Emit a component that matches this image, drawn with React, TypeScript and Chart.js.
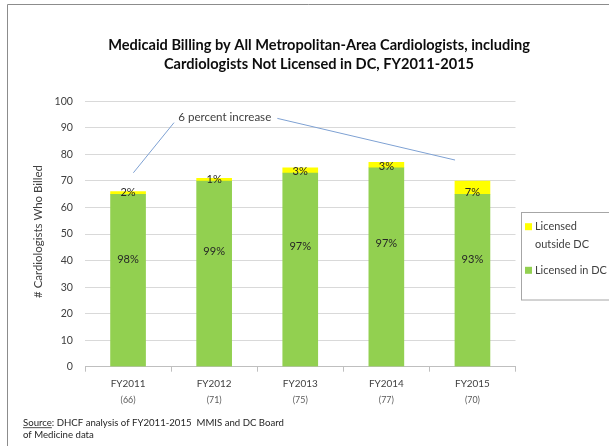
import React, { useEffect, useRef } from 'react';
import { Chart, registerables } from 'chart.js';

Chart.register(...registerables);

// ---------- data ----------
const categories = ['FY2011', 'FY2012', 'FY2013', 'FY2014', 'FY2015'];
const licensedInDC = [65, 70, 73, 75, 65];
const licensedOutsideDC = [1, 1, 2, 2, 5];
const totals = ['(66)', '(71)', '(75)', '(77)', '(70)'];
const pctInDC = ['98%', '99%', '97%', '97%', '93%'];
const pctOutsideDC = ['2%', '1%', '3%', '3%', '7%'];
const yTicks = [0, 10, 20, 30, 40, 50, 60, 70, 80, 90, 100];

const titleLines = [
  'Medicaid Billing by All Metropolitan-Area Cardiologists, including',
  'Cardiologists Not Licensed in DC, FY2011-2015',
];
const yAxisTitle = '# Cardiologists Who Billed';
const annotationText = '6 percent increase';
// annotation lines in data units: [categoryIndex, value]
const annotLeft = [[0.062, 73.1], [0.534, 92.0]];
const annotRight = [[1.734, 93.6], [3.798, 77.9]];
const annotTextAt = [0.584, 94.0];
const legendItems = [
  { lines: ['Licensed', 'outside DC'], color: '#FFFF00' },
  { lines: ['Licensed in DC'], color: '#92D050' },
];

const FONT = 'Lato, "Open Sans", "DejaVu Sans", sans-serif';

function fitSize(text: string, weight: string, width: number): number {
  const c = document.createElement('canvas').getContext('2d')!;
  c.font = `${weight} 100px ${FONT}`;
  const w = c.measureText(text).width;
  return (100 * width) / w;
}

export default function App() {
  const ref = useRef<HTMLCanvasElement | null>(null);

  useEffect(() => {
    document.body.style.margin = '0';
    const canvas = ref.current!;

    const titleSize = fitSize(titleLines[0], 'bold', 422);
    const yTickSize = fitSize('100', 'normal', 18.4);
    const xTickSize = fitSize('FY2011', 'normal', 31.7) * 1.1;
    const subSize = fitSize('(66)', 'normal', 15);
    const dataSize = fitSize('98%', 'normal', 21.7);
    const annSize = fitSize(annotationText, 'normal', 93);
    const axisTitleSize = fitSize(yAxisTitle, 'normal', 133);
    const legendSize = fitSize('Licensed in DC', 'normal', 72);
    const sourceSize = fitSize('Source: DHCF analysis of FY2011-2015  MMIS and DC Board', 'normal', 261);

    const decor = {
      id: 'decor',
      afterDatasetsDraw(chart: any) {
        const ctx = chart.ctx;
        const m0 = chart.getDatasetMeta(0);
        ctx.save();
        ctx.fillStyle = '#262626';
        ctx.textAlign = 'center';
        ctx.textBaseline = 'middle';
        ctx.font = `normal ${dataSize}px ${FONT}`;
        m0.data.forEach((bar: any, i: number) => {
          const yLab = bar.base - 0.62 * (bar.base - bar.y);
          ctx.fillText(pctInDC[i], bar.x, yLab);
          ctx.fillText(pctOutsideDC[i], bar.x, bar.y - 1.5);
        });
        ctx.restore();
      },
      afterDraw(chart: any) {
        const ctx = chart.ctx;
        const xs = chart.scales.x;
        const ys = chart.scales.y;
        ctx.save();

        // outer frame
        ctx.strokeStyle = '#8c8c8c';
        ctx.lineWidth = 1;
        ctx.beginPath();
        ctx.moveTo(7.5, 446);
        ctx.lineTo(7.5, 4.5);
        ctx.lineTo(609, 4.5);
        ctx.stroke();

        // title
        ctx.fillStyle = '#0d0d0d';
        ctx.textAlign = 'center';
        ctx.textBaseline = 'middle';
        ctx.font = `bold ${titleSize}px ${FONT}`;
        ctx.fillText(titleLines[0], 319, 45);
        ctx.fillText(titleLines[1], 319, 64);

        // y axis title
        ctx.save();
        ctx.translate(38, 231.5);
        ctx.rotate(-Math.PI / 2);
        ctx.fillStyle = '#404040';
        ctx.font = `normal ${axisTitleSize}px ${FONT}`;
        ctx.fillText(yAxisTitle, 0, 0);
        ctx.restore();

        // sub labels under categories
        ctx.fillStyle = '#595959';
        ctx.font = `normal ${subSize}px ${FONT}`;
        totals.forEach((t, i) => {
          ctx.fillText(t, xs.getPixelForValue(i), 400);
        });

        // annotation
        ctx.strokeStyle = '#7ea1d3';
        ctx.lineWidth = 1;
        [annotLeft, annotRight].forEach((seg) => {
          ctx.beginPath();
          ctx.moveTo(xs.getPixelForValue(seg[0][0]), ys.getPixelForValue(seg[0][1]));
          ctx.lineTo(xs.getPixelForValue(seg[1][0]), ys.getPixelForValue(seg[1][1]));
          ctx.stroke();
        });
        ctx.fillStyle = '#404040';
        ctx.textAlign = 'left';
        ctx.font = `normal ${annSize}px ${FONT}`;
        ctx.fillText(
          annotationText,
          xs.getPixelForValue(annotTextAt[0]),
          ys.getPixelForValue(annotTextAt[1])
        );

        // legend
        ctx.strokeStyle = '#a6a6a6';
        ctx.strokeRect(521.5, 212.5, 120, 87.5);
        ctx.font = `normal ${legendSize}px ${FONT}`;
        ctx.textBaseline = 'middle';
        const legendY = [226.7, 270.3];
        legendItems.forEach((it, k) => {
          const y = legendY[k];
          ctx.fillStyle = it.color;
          ctx.fillRect(525, y - 3.5, 7, 7);
          ctx.fillStyle = '#404040';
          it.lines.forEach((ln, j) => {
            ctx.fillText(ln, 535, y + j * 17.3);
          });
        });

        // source
        ctx.fillStyle = '#262626';
        ctx.font = `normal ${sourceSize}px ${FONT}`;
        const sx = 23;
        const srcWord = 'Source';
        ctx.fillText(srcWord, sx, 423);
        const sw = ctx.measureText(srcWord).width;
        ctx.fillRect(sx, 423 + sourceSize * 0.45, sw, 0.8);
        ctx.fillText(': DHCF analysis of FY2011-2015  MMIS and DC Board', sx + sw, 423);
        ctx.fillText('of Medicine data', sx, 435);

        ctx.restore();
      },
    };

    const chart = new Chart(canvas, {
      type: 'bar',
      data: {
        labels: categories,
        datasets: [
          {
            label: 'Licensed in DC',
            data: licensedInDC,
            backgroundColor: '#92D050',
            borderWidth: 0,
            barThickness: 35,
          },
          {
            label: 'Licensed outside DC',
            data: licensedOutsideDC,
            backgroundColor: '#FFFF00',
            borderWidth: 0,
            barThickness: 35,
          },
        ],
      },
      options: {
        responsive: false,
        animation: false,
        devicePixelRatio: 1,
        layout: { padding: { left: 0, top: 101.4, right: 93.5, bottom: 49.3 } },
        plugins: {
          legend: { display: false },
          title: { display: false },
          tooltip: { enabled: false },
        },
        scales: {
          x: {
            stacked: true,
            afterFit: (s: any) => {
              s.height = 30;
            },
            grid: {
              drawOnChartArea: false,
              drawTicks: true,
              tickLength: 5,
              color: '#bfbfbf',
            },
            border: { display: true, color: '#bfbfbf' },
            ticks: {
              color: '#404040',
              padding: 6,
              font: { family: FONT, size: xTickSize },
            },
          },
          y: {
            stacked: true,
            min: 0,
            max: 100,
            afterFit: (s: any) => {
              s.width = 85;
            },
            afterBuildTicks: (s: any) => {
              s.ticks = yTicks.map((v) => ({ value: v }));
            },
            grid: { color: '#d9d9d9', drawTicks: false },
            border: { display: false },
            ticks: {
              color: '#404040',
              padding: 12,
              font: { family: FONT, size: yTickSize },
            },
          },
        },
      },
      plugins: [decor],
    });

    return () => chart.destroy();
  }, []);

  return (
    <div style={{ position: 'relative', width: 609, height: 446 }}>
      <canvas ref={ref} width={609} height={446} />
    </div>
  );
}
